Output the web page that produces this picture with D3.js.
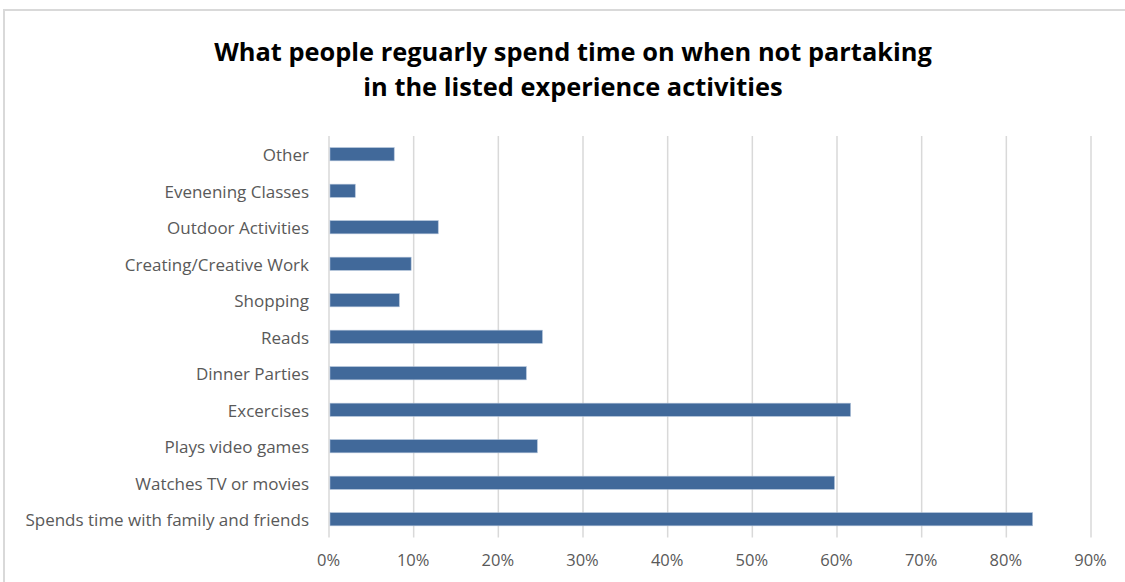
<!DOCTYPE html>
<html>
<head>
<meta charset="utf-8">
<script src="https://cdn.jsdelivr.net/npm/d3@7"></script>
<style>
  html, body { margin: 0; padding: 0; background: #ffffff; }
  svg { display: block; }
</style>
</head>
<body>
<svg id="chart" width="1125" height="582"></svg>
<script>
// Activities, top to bottom as listed on the chart
const categories = [
  "Other",
  "Evenening Classes",
  "Outdoor Activities",
  "Creating/Creative Work",
  "Shopping",
  "Reads",
  "Dinner Parties",
  "Excercises",
  "Plays video games",
  "Watches TV or movies",
  "Spends time with family and friends"
];

// Share of respondents (fraction) for each activity
const shares = [0.077, 0.031, 0.129, 0.097, 0.083, 0.252, 0.233, 0.616, 0.246, 0.597, 0.831];

const tickValues = [0, 0.1, 0.2, 0.3, 0.4, 0.5, 0.6, 0.7, 0.8, 0.9];

const titleLines = [
  "What people reguarly spend time on when not partaking",
  "in the listed experience activities"
];

const svg = d3.select("#chart");
const W = 1125, H = 582;

// outer chart frame
svg.append("rect")
  .attr("x", 4).attr("y", 10)
  .attr("width", W + 10).attr("height", H + 10)
  .attr("fill", "#ffffff")
  .attr("stroke", "#d9d9d9")
  .attr("stroke-width", 2);

const plot = { left: 329, right: 1091, top: 136, bottom: 537.5 };

const x = d3.scaleLinear().domain([0, 0.9]).range([plot.left, plot.right]);
const y = d3.scaleBand()
  .domain(categories)
  .range([plot.top, plot.bottom])
  .paddingInner(0.64)
  .paddingOuter(0.32);

// vertical gridlines
svg.append("g")
  .selectAll("line")
  .data(tickValues)
  .join("line")
  .attr("x1", d => x(d)).attr("x2", d => x(d))
  .attr("y1", plot.top).attr("y2", plot.bottom)
  .attr("stroke", "#d9d9d9")
  .attr("stroke-width", 1.5);

// bars
svg.append("g")
  .selectAll("rect")
  .data(categories)
  .join("rect")
  .attr("x", x(0) + 1)
  .attr("y", d => y(d))
  .attr("width", (d, i) => x(shares[i]) - x(0) - 1)
  .attr("height", y.bandwidth())
  .attr("fill", "#41699a")
  .attr("stroke", "#a9bdd6")
  .attr("stroke-width", 0.6);

const labelFont = "'Open Sans', sans-serif";

// category axis (labels only)
const yAxis = d3.axisLeft(y).tickSize(0).tickPadding(20);
const gy = svg.append("g")
  .attr("transform", `translate(${plot.left},1.5)`)
  .call(yAxis);
gy.select(".domain").remove();
gy.selectAll("text")
  .attr("fill", "#595959")
  .style("font-family", labelFont)
  .style("font-size", "17px");

// value axis (labels only)
const xAxis = d3.axisBottom(x)
  .tickValues(tickValues)
  .tickFormat(d3.format(".0%"))
  .tickSize(0)
  .tickPadding(0);
const gx = svg.append("g")
  .attr("transform", `translate(-1,${plot.bottom + 17})`)
  .call(xAxis);
gx.select(".domain").remove();
gx.selectAll("text")
  .attr("fill", "#595959")
  .style("font-family", labelFont)
  .style("font-size", "16.5px");

// title
svg.append("g")
  .selectAll("text")
  .data(titleLines)
  .join("text")
  .attr("x", 573)
  .attr("y", (d, i) => 61 + i * 35)
  .attr("text-anchor", "middle")
  .attr("fill", "#000000")
  .style("font-family", labelFont)
  .style("font-weight", "bold")
  .style("font-size", "25.4px")
  .text(d => d);
</script>
</body>
</html>
